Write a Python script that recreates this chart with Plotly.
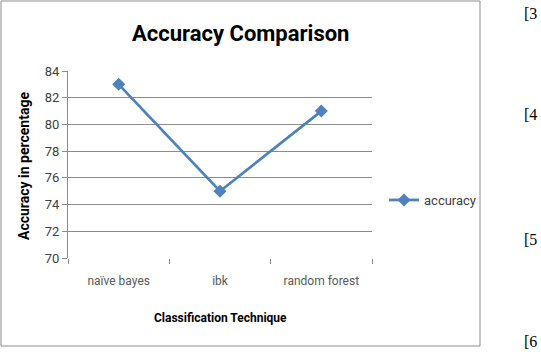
import plotly.graph_objects as go

categories = ["naïve bayes", "ibk", "random forest"]
accuracy = [83, 75, 81]
y_ticks = [70, 72, 74, 76, 78, 80, 82, 84]
side_refs = ["[3", "[4", "[5", "[6"]

W, H = 541, 356
L, R, T, B = 68, 372, 71, 258
pw, ph = R - L, B - T

def px(x):
    return (x - L) / pw

def py(y):
    return (B - y) / ph

FONT = "Roboto, Liberation Sans, Arial"

fig = go.Figure()
fig.add_trace(go.Scatter(
    x=categories, y=accuracy, mode="lines+markers", name="accuracy",
    line=dict(color="#4F81BD", width=2.75),
    marker=dict(symbol="diamond", size=10, color="#4F81BD"),
))

fig.update_layout(
    width=W, height=H,
    margin=dict(l=L, r=W - R, t=T, b=H - B),
    paper_bgcolor="white", plot_bgcolor="white",
    font=dict(family=FONT, size=12, color="#595959"),
    showlegend=True,
    legend=dict(x=px(384), y=py(200), xanchor="left", yanchor="middle",
                font=dict(family=FONT, size=13, color="#404040"),
                bgcolor="rgba(0,0,0,0)", itemwidth=30, tracegroupgap=0),
    xaxis=dict(type="category", range=[-0.5, 2.5], showgrid=False,
               tickson="boundaries", ticks="outside", ticklen=5,
               tickcolor="#8c8c8c", showline=False, zeroline=False,
               ticklabelstandoff=14,
               tickfont=dict(family=FONT, size=12, color="#595959")),
    yaxis=dict(range=[70, 84], tickvals=y_ticks, showgrid=True,
               gridcolor="#8c8c8c", gridwidth=1, showline=True,
               linecolor="#8c8c8c", linewidth=1, ticks="outside",
               ticklen=5, tickcolor="#8c8c8c", zeroline=False,
               tickfont=dict(family=FONT, size=13, color="#404040")),
)

fig.add_shape(type="rect", xref="paper", yref="paper",
              x0=px(1), x1=px(480), y0=py(346), y1=py(1),
              line=dict(color="#8c8c8c", width=1), layer="below")

fig.add_annotation(text="<b>Accuracy Comparison</b>", xref="paper", yref="paper",
                   x=px(240), y=py(33), xanchor="center", yanchor="middle",
                   showarrow=False,
                   font=dict(family=FONT, size=22, color="#000000"))
fig.add_annotation(text="<b>Accuracy in percentage</b>", xref="paper", yref="paper",
                   x=px(24), y=py(166), xanchor="center", yanchor="middle",
                   showarrow=False, textangle=-90,
                   font=dict(family=FONT, size=14, color="#000000"))
fig.add_annotation(text="<b>Classification Technique</b>", xref="paper", yref="paper",
                   x=px(220), y=py(318), xanchor="center", yanchor="middle",
                   showarrow=False,
                   font=dict(family=FONT, size=12, color="#000000"))

ref_y = [13, 114, 239, 341]
for t, yy in zip(side_refs, ref_y):
    fig.add_annotation(text=t, xref="paper", yref="paper", x=px(522), y=py(yy),
                       xanchor="left", yanchor="middle", showarrow=False,
                       font=dict(family="Liberation Serif, Times New Roman", size=16, color="#000000"))

fig.write_html("out.html")
